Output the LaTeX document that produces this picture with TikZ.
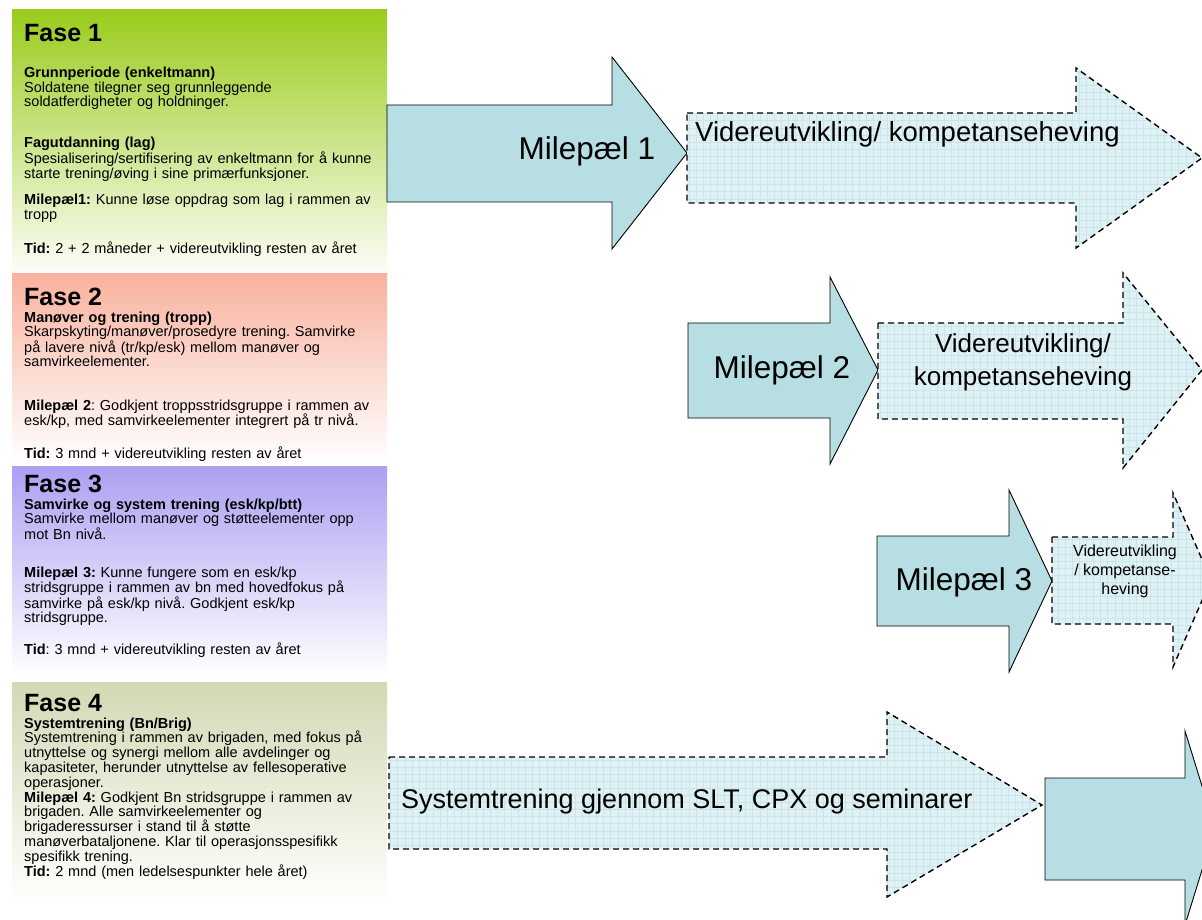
\documentclass[tikz,border=0pt]{standalone}
\usepackage{fontspec}
\setmainfont{Liberation Sans}
\frenchspacing
\definecolor{fonegreen}{RGB}{154,204,28}
\definecolor{ftwosalmon}{RGB}{248,178,158}
\definecolor{fthreelav}{RGB}{172,160,242}
\definecolor{ffourkhaki}{RGB}{212,216,180}
\definecolor{solidfill}{RGB}{183,223,227}
\definecolor{dashfill}{RGB}{223,241,244}
\definecolor{gridcol}{RGB}{200,230,234}
\tikzset{
  ba/.style n args={8}{insert path={(#1,#2) -- (#4,#2) -- (#4,#5) -- (#7,#8) -- (#4,#6) -- (#4,#3) -- (#1,#3) -- cycle}},
  solidarrow/.style={fill=solidfill, draw=black, line width=0.9pt, line join=miter},
  dashedge/.style={draw=black, line width=1.4pt, dash pattern=on 6pt off 4pt},
  gridlines/.style={draw=gridcol, line width=0.4pt},
  phtitle/.style={anchor=base west, inner sep=0pt, font=\fontsize{25}{28}\selectfont\bfseries},
  phtext/.style={anchor=base west, inner sep=0pt, text width=420pt, align=left, font=\fontsize{14.5}{14.5}\selectfont},
  mlabel/.style={anchor=base, inner sep=0pt, font=\fontsize{31.5}{34}\selectfont},
  vlabel/.style={anchor=base, inner sep=0pt, align=center, font=\fontsize{26}{33}\selectfont},
  slabel/.style={anchor=base, inner sep=0pt, align=center, font=\fontsize{16}{19}\selectfont}
}
\newcommand\gridfill[8]{%
  \begin{scope}
    \path[clip, ba={#1}{#2}{#3}{#4}{#5}{#6}{#7}{#8}];
    \fill[dashfill] (380,0) rectangle (1230,920);
    \draw[gridlines, step=7.1pt] (380,0) grid (1230,920);
  \end{scope}
  \path[dashedge, ba={#1}{#2}{#3}{#4}{#5}{#6}{#7}{#8}];
}
\begin{document}
\begin{tikzpicture}[x=1pt,y=-1pt]
\useasboundingbox (0,0) rectangle (1202,920);
\clip (0,0) rectangle (1202,920);
\fill[white] (0,0) rectangle (1202,920);

% ---------- Fase 1 ----------
\shade[top color=fonegreen, bottom color=fonegreen!3] (12,10) rectangle (387,273);
\node[phtitle] (f1title) at (24,42) {Fase 1};
\node[phtext] (f1a) at (24,78) {\textbf{Grunnperiode (enkeltmann)}\\Soldatene tilegner seg grunnleggende\\soldatferdigheter og holdninger.};
\node[phtext] (f1b) at (24,148) {\textbf{Fagutdanning (lag)}\\Spesialisering/sertifisering av enkeltmann for å kunne\\starte trening/øving i sine primærfunksjoner.};
\node[phtext] (f1c) at (24,205) {\textbf{Milepæl1:} Kunne løse oppdrag som lag i rammen av\\tropp};
\node[phtext] (f1d) at (24,253) {\textbf{Tid:} 2 + 2 måneder + videreutvikling resten av året};

% ---------- Fase 2 ----------
\shade[top color=ftwosalmon, bottom color=white] (12,273) rectangle (387,462);
\node[phtitle] (f2title) at (24,305) {Fase 2};
\node[phtext] (f2a) at (24,322) {\textbf{Manøver og trening (tropp)}\\Skarpskyting/manøver/prosedyre trening. Samvirke\\på lavere nivå (tr/kp/esk) mellom manøver og\\samvirkeelementer.};
\node[phtext] (f2b) at (24,410) {\textbf{Milepæl 2}: Godkjent troppsstridsgruppe i rammen av\\esk/kp, med samvirkeelementer integrert på tr nivå.};
\node[phtext] (f2c) at (24,458) {\textbf{Tid:} 3 mnd + videreutvikling resten av året};

% ---------- Fase 3 ----------
\shade[top color=fthreelav, bottom color=white] (12,466) rectangle (387,675);
\node[phtitle] (f3title) at (24,492) {Fase 3};
\node[phtext] (f3a) at (24,509) {\textbf{Samvirke og system trening (esk/kp/btt)}\\Samvirke mellom manøver og støtteelementer opp\\mot Bn nivå.};
\node[phtext] (f3b) at (24,577) {\textbf{Milepæl 3:} Kunne fungere som en esk/kp\\stridsgruppe i rammen av bn med hovedfokus på\\samvirke på esk/kp nivå. Godkjent esk/kp\\stridsgruppe.};
\node[phtext] (f3c) at (24,654) {\textbf{Tid}: 3 mnd + videreutvikling resten av året};

% ---------- Fase 4 ----------
\shade[top color=ffourkhaki, bottom color=white] (12,682) rectangle (387,905);
\node[phtitle] (f4title) at (24,711) {Fase 4};
\node[phtext, font=\fontsize{14.5}{14.8}\selectfont] (f4a) at (24,728) {\textbf{Systemtrening (Bn/Brig)}\\Systemtrening i rammen av brigaden, med fokus på\\utnyttelse og synergi mellom alle avdelinger og\\kapasiteter, herunder utnyttelse av fellesoperative\\operasjoner.\\\textbf{Milepæl 4:} Godkjent Bn stridsgruppe i rammen av\\brigaden. Alle samvirkeelementer og\\brigaderessurser i stand til å støtte\\manøverbataljonene. Klar til operasjonsspesifikk\\spesifikk trening.\\\textbf{Tid:} 2 mnd (men ledelsespunkter hele året)};

% ---------- Row 1 ----------
\path[solidarrow, ba={387}{105}{202}{612}{57}{249}{687}{153}];
\node[mlabel] (m1) at (587,160) {Milepæl 1};
\gridfill{687}{113}{203}{1076}{68}{248}{1202}{158}
\node[anchor=base west, inner sep=0pt, font=\fontsize{27.5}{30}\selectfont] (v1) at (695,142) {Videreutvikling/ kompetanseheving};

% ---------- Row 2 ----------
\path[solidarrow, ba={688}{323}{418}{830}{277}{464}{878}{370}];
\node[mlabel] (m2) at (782,378) {Milepæl 2};
\gridfill{878}{323}{419}{1123}{273}{468}{1202}{370}
\node[vlabel] (v2) at (1023,385) {Videreutvikling/\\kompetanseheving};

% ---------- Row 3 ----------
\path[solidarrow, ba={877}{536}{626}{1009}{490}{672}{1052}{581}];
\node[mlabel] (m3) at (964,590) {Milepæl 3};
\gridfill{1052}{537}{624}{1173}{493}{667}{1211}{580}
\node[slabel] (v3) at (1125,594) {Videreutvikling\\/ kompetanse-\\heving};

% ---------- Row 4 ----------
\gridfill{389}{757}{849}{887}{712}{897}{1042}{805}
\node[anchor=base west, inner sep=0pt, font=\fontsize{27}{30}\selectfont] (s4) at (401,808) {Systemtrening gjennom SLT, CPX og seminarer};
\path[solidarrow, ba={1045}{778}{880}{1185}{731}{925}{1215}{828}];
\end{tikzpicture}
\end{document}
